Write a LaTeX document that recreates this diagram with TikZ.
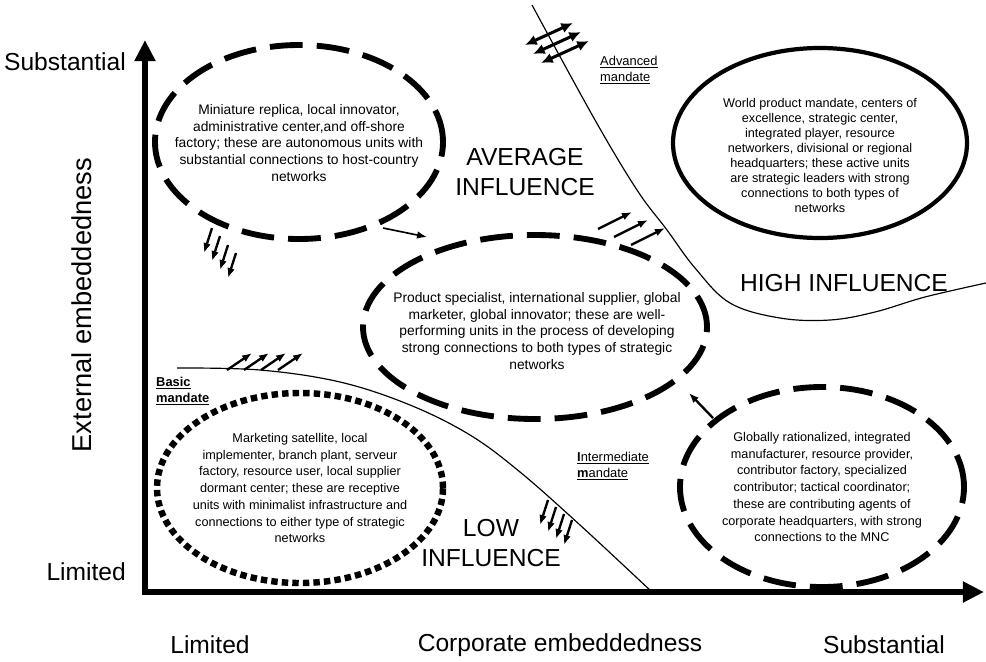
\documentclass[tikz,border=0pt]{standalone}
\usepackage{fontspec}
\setmainfont{Liberation Sans}
\usetikzlibrary{arrows.meta}

\begin{document}
\begin{tikzpicture}[x=0.03cm, y=-0.03cm, >={Latex[length=8.5pt,width=6.5pt]},
  unittext/.style={align=center, inner sep=0pt,
                   font=\fontsize{10.8}{14.3}\selectfont},
  bigtext/.style={unittext, font=\fontsize{11.8}{14.3}\selectfont},
  ring/.style={line width=5pt},
  dashedring/.style={ring, dash pattern=on 28pt off 12pt},
  dottedring/.style={ring, line width=5.5pt, dash pattern=on 5.5pt off 3.5pt},
  zone/.style={font=\fontsize{21}{26}\selectfont, align=center},
  axislabel/.style={font=\fontsize{21}{26}\selectfont},
  mandate/.style={font=\fontsize{11}{13}\selectfont, align=left, anchor=west,
                  inner sep=0pt},
  border/.style={line width=1pt},
  push/.style={->, line width=2pt},
  swap/.style={{Latex[length=10pt,width=9pt]}-{Latex[length=10pt,width=9pt]},
               line width=2.6pt}]
 \useasboundingbox (0,0) rectangle (986,661);
 \coordinate (ytop) at (145,40);
 \coordinate (origin) at (145,592);
 \coordinate (xend) at (984,592);
 \draw[line width=5pt, line join=miter,
       {Triangle[length=18pt,width=17pt]}-{Triangle[length=18pt,width=17pt]}]
   (ytop) -- (origin) -- (xend);
 \node[axislabel, anchor=east] (ysub) at (130,62) {Substantial};
 \node[axislabel, anchor=east] (ylim) at (130,572) {Limited};
 \node[axislabel, font=\fontsize{23.3}{28}\selectfont, rotate=90] (ytitle)
   at (82,305) {External embeddedness};
 \node[axislabel] (xlim) at (210,645) {Limited};
 \node[axislabel] (xtitle) at (560,645) {Corporate embeddedness};
 \node[axislabel] (xsub) at (884,645) {Substantial};

 \draw[border] plot[smooth, tension=0.6] coordinates {(532,5) (595,120)
   (637,190) (667,230) (695,268) (730,303) (780,318) (830,320) (875,312)
   (925,297) (986,283)};
 \draw[border] plot[smooth, tension=0.6] coordinates {(177,368) (260,370)
   (340,382) (410,405) (470,435) (520,472) (580,525) (652,592)};

 \node[bigtext] (replica) at (299,143) {Miniature replica, local innovator,\\
   administrative center,and off-shore\\
   factory; these are autonomous units with\\
   substantial connections to host-country\\networks};
 \node[bigtext] (specialist) at (537,331)
   {Product specialist, international supplier, global\\
   marketer, global innovator; these are well-\\
   performing units in the process of developing\\
   strong connections to both types of strategic\\networks};
 \node[unittext, font=\fontsize{10.8}{12.8}\selectfont] (world) at (820,155)
   {World product mandate, centers of\\
   excellence, strategic center,\\integrated player, resource\\
   networkers, divisional or regional\\headquarters; these active units\\
   are strategic leaders with strong\\connections to both types of\\networks};
 \node[unittext] (satellite) at (300,488) {Marketing satellite, local\\
   implementer, branch plant, serveur\\
   factory, resource user, local supplier\\
   dormant center; these are receptive\\
   units with minimalist infrastructure and\\
   connections to either type of strategic\\networks};
 \node[unittext] (rationalized) at (822,487)
   {Globally rationalized, integrated\\
   manufacturer, resource provider,\\contributor factory, specialized\\
   contributor; tactical coordinator;\\these are contributing agents of\\
   corporate headquarters, with strong\\connections to the MNC};
 \draw[dashedring] (299,142) ellipse [x radius=4.32cm, y radius=2.91cm];
 \draw[dashedring] (535,327) ellipse [x radius=5.16cm, y radius=2.76cm];
 \draw[ring, line width=3.6pt] (820,143) ellipse [x radius=4.41cm, y radius=2.85cm];
 \draw[dottedring] (300,488) ellipse [x radius=4.29cm, y radius=2.85cm];
 \draw[dashedring] (822,487) ellipse [x radius=4.26cm, y radius=3cm];

 \node[zone] (average) at (525,172) {AVERAGE\\INFLUENCE};
 \node[zone] (high) at (844,283) {HIGH INFLUENCE};
 \node[zone] (low) at (491,543) {LOW\\INFLUENCE};
 \node[mandate] (advanced) at (600,70) {\underline{Advanced}\\\underline{mandate}};
 \node[mandate, font=\fontsize{11}{13}\selectfont\bfseries] (basic)
   at (156,391) {\underline{Basic}\\\underline{mandate}};
 \node[mandate] (intermediate) at (577,466)
   {\underline{\textbf{I}ntermediate}\\\underline{\textbf{m}andate}};

 \foreach \x/\y in {525/45,533/54,541/63}
   \draw[swap] (\x,\y) -- ++(48,-22);
 \foreach \x/\y in {598/229,614/237,631/245}
   \draw[push] (\x,\y) -- ++(34,-17);
 \foreach \x in {227,244,261,278}
   \draw[push] (\x,370) -- ++(25,-17);
 \foreach \x/\y in {212/228,220/236,228/245,236/253}
   \draw[push] (\x,\y) -- ++(-8,25);
 \foreach \x/\y in {548/500,556/507,564/514,572/520}
   \draw[push] (\x,\y) -- ++(-8,25);
 \draw[push, line width=1.4pt] (383,228) -- (427,237);
 \draw[push] (713,418) -- (689,393);
\end{tikzpicture}
\end{document}
